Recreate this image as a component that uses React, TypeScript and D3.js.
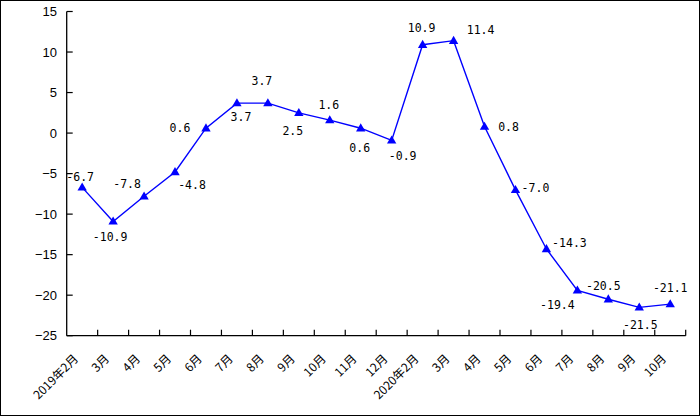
import React from "react";
import * as d3 from "d3";

const categories = [
  "2019年2月", "3月", "4月", "5月", "6月", "7月", "8月", "9月", "10月", "11月", "12月",
  "2020年2月", "3月", "4月", "5月", "6月", "7月", "8月", "9月", "10月",
];
const values = [
  -6.7, -10.9, -7.8, -4.8, 0.6, 3.7, 3.7, 2.5, 1.6, 0.6, -0.9,
  10.9, 11.4, 0.8, -7.0, -14.3, -19.4, -20.5, -21.5, -21.1,
];
const yTicks = [15, 10, 5, 0, -5, -10, -15, -20, -25];

// label placement offsets (layout only)
const labelOffsets: [number, number][] = [
  [-2, -10], [-3, 16], [-17, -12], [17, 13], [-26, 0], [4, 14], [-6, -22], [-6, 18],
  [-1, -15], [-1, 20], [11, 16], [-1, -17], [27, -11], [24, 0], [20, -2], [23, -6],
  [-20, 15], [-5, -13], [1, 18], [0, -16],
];

const W = 700;
const H = 416;
const left = 66.7;
const right = 685.7;
const top = 11.5;
const bottom = 335.7;

export default function App() {
  const idx = categories.map((_, i) => String(i));
  const x = d3.scaleBand<string>().domain(idx).range([left, right]).padding(0);
  const y = d3.scaleLinear().domain([-25, 15]).range([bottom, top]);
  const cx = (i: number) => (x(String(i)) as number) + x.bandwidth() / 2;

  const line = d3
    .line<number>()
    .x((_, i) => cx(i))
    .y((d) => y(d));

  const tri = d3.symbol().type(d3.symbolTriangle).size(38)();

  const boundaries = d3.range(1, categories.length + 1).map((i) =>
    left + i * x.bandwidth()
  );

  return (
    <svg
      width={W}
      height={H}
      style={{ position: "absolute", left: 0, top: 0, background: "#fff" }}
    >
      <rect x={0.5} y={0.5} width={W - 1} height={H - 1} fill="#fff" stroke="#000" strokeWidth={1} />
      {/* y axis */}
      <line x1={left} x2={left} y1={top} y2={bottom} stroke="#000" strokeWidth={1.3} />
      {yTicks.map((t) => (
        <g key={t}>
          <line x1={left} x2={left + 6} y1={y(t)} y2={y(t)} stroke="#000" strokeWidth={1.2} />
          <text
            x={57}
            y={y(t)}
            textAnchor="end"
            dominantBaseline="central"
            fontFamily="Liberation Sans, Arial, sans-serif"
            fontSize={13}
            fill="#000"
          >
            {t < 0 ? "\u2212" + Math.abs(t) : String(t)}
          </text>
        </g>
      ))}
      {/* x axis */}
      <line x1={left} x2={right} y1={bottom} y2={bottom} stroke="#000" strokeWidth={1.3} />
      {boundaries.map((bx, i) => (
        <line key={i} x1={bx} x2={bx} y1={bottom} y2={bottom - 6} stroke="#000" strokeWidth={1.2} />
      ))}
      {categories.map((c, i) => (
        <text
          key={i}
          transform={`translate(${cx(i) - 7},${bottom + 20}) rotate(-45)`}
          textAnchor="end"
          dominantBaseline="central"
          fontFamily="Noto Sans CJK SC, sans-serif"
          fontSize={12}
          fill="#000"
        >
          {c}
        </text>
      ))}
      {/* series */}
      <path d={line(values) || ""} fill="none" stroke="#0000FF" strokeWidth={1.4} />
      {values.map((v, i) => (
        <path key={i} d={tri || ""} transform={`translate(${cx(i)},${y(v) + 0.5})`} fill="#0000FF" />
      ))}
      {values.map((v, i) => (
        <text
          key={"l" + i}
          x={cx(i) + labelOffsets[i][0]}
          y={y(v) + labelOffsets[i][1]}
          textAnchor="middle"
          dominantBaseline="central"
          fontFamily="DejaVu Sans Mono, monospace"
          fontSize={11.5}
          fill="#000"
        >
          {v.toFixed(1)}
        </text>
      ))}
    </svg>
  );
}
